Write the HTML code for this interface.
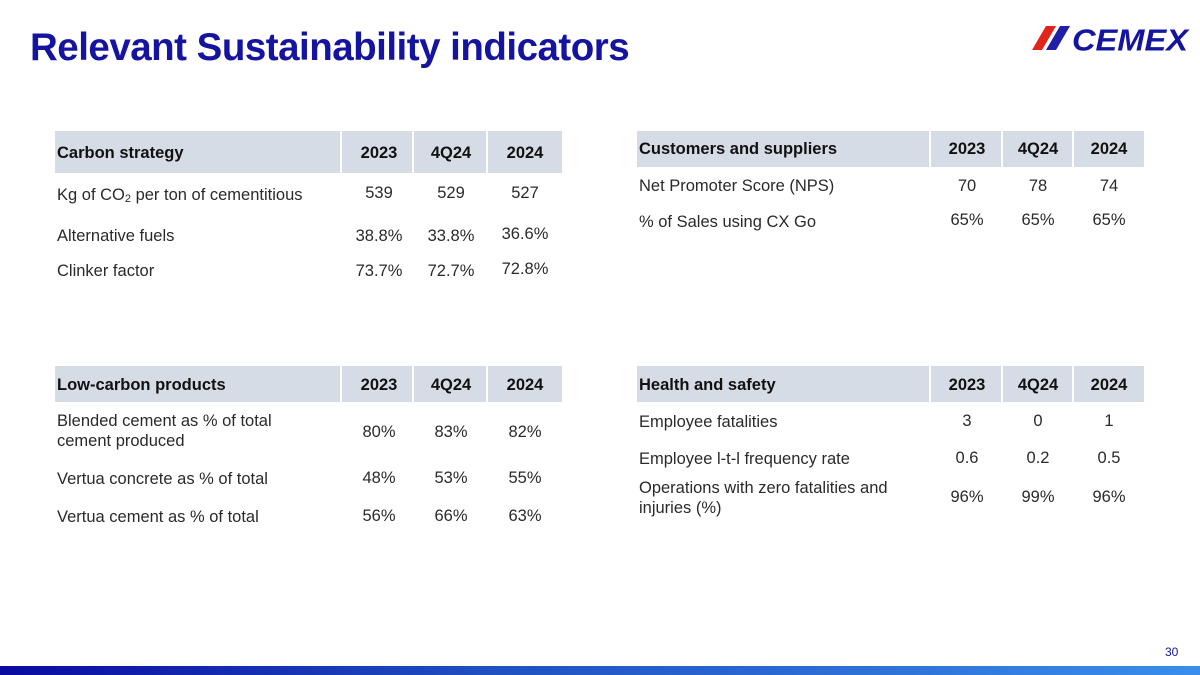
<!DOCTYPE html>
<html><head><meta charset="utf-8"><style>
body{margin:0;width:1200px;height:675px;position:relative;overflow:hidden;background:#fff;font-family:"Liberation Sans",sans-serif;color:#2a2a2a}
.t{position:absolute;font-size:16.5px;line-height:20px;white-space:nowrap}
.c{transform:translateX(-50%)}
.b{font-weight:bold;color:#111}
.hdr{position:absolute;background:#d6dce5}
.sep{position:absolute;width:2px;background:#fff}
</style></head><body>
<div style="position:absolute;left:30px;top:26px;font-size:38.5px;font-weight:bold;color:#1414a0;letter-spacing:-0.5px">Relevant Sustainability indicators</div>
<div style="position:absolute;left:1030px;top:22px;width:165px;height:34px">
<svg width="165" height="34" viewBox="0 0 165 34"><polygon points="2,28 12,28 26,4 16,4" fill="#e1251b"/><polygon points="16,28 26,28 40,4 30,4" fill="#1f1fa8"/><text x="42" y="28.5" font-family="Liberation Sans" font-weight="bold" font-style="italic" font-size="31" textLength="116" lengthAdjust="spacingAndGlyphs" fill="#1414a0">CEMEX</text></svg></div>

<!-- Carbon strategy -->
<div class="hdr" style="left:55px;top:131px;width:507px;height:42px"></div>
<div class="sep" style="left:340px;top:131px;height:42px"></div><div class="sep" style="left:412px;top:131px;height:42px"></div><div class="sep" style="left:486px;top:131px;height:42px"></div>
<div class="t b" style="left:57px;top:143px">Carbon strategy</div>
<div class="t b c" style="left:379px;top:143px">2023</div><div class="t b c" style="left:451px;top:143px">4Q24</div><div class="t b c" style="left:525px;top:143px">2024</div>
<div class="t" style="left:57px;top:185px">Kg of CO<sub style="font-size:11px;vertical-align:-2px">2</sub> per ton of cementitious</div>
<div class="t c" style="left:379px;top:183px">539</div><div class="t c" style="left:451px;top:183px">529</div><div class="t c" style="left:525px;top:183px">527</div>
<div class="t" style="left:57px;top:226px">Alternative fuels</div>
<div class="t c" style="left:379px;top:226px">38.8%</div><div class="t c" style="left:451px;top:226px">33.8%</div><div class="t c" style="left:525px;top:224px">36.6%</div>
<div class="t" style="left:57px;top:261px">Clinker factor</div>
<div class="t c" style="left:379px;top:261px">73.7%</div><div class="t c" style="left:451px;top:261px">72.7%</div><div class="t c" style="left:525px;top:259px">72.8%</div>

<!-- Customers -->
<div class="hdr" style="left:637px;top:131px;width:507px;height:36px"></div>
<div class="sep" style="left:929px;top:131px;height:36px"></div><div class="sep" style="left:1001px;top:131px;height:36px"></div><div class="sep" style="left:1072px;top:131px;height:36px"></div>
<div class="t b" style="left:639px;top:139px">Customers and suppliers</div>
<div class="t b c" style="left:967px;top:139px">2023</div><div class="t b c" style="left:1038px;top:139px">4Q24</div><div class="t b c" style="left:1109px;top:139px">2024</div>
<div class="t" style="left:639px;top:176px">Net Promoter Score (NPS)</div>
<div class="t c" style="left:967px;top:176px">70</div><div class="t c" style="left:1038px;top:176px">78</div><div class="t c" style="left:1109px;top:176px">74</div>
<div class="t" style="left:639px;top:212px">% of Sales using CX Go</div>
<div class="t c" style="left:967px;top:210px">65%</div><div class="t c" style="left:1038px;top:210px">65%</div><div class="t c" style="left:1109px;top:210px">65%</div>

<!-- Low-carbon -->
<div class="hdr" style="left:55px;top:366px;width:507px;height:36px"></div>
<div class="sep" style="left:340px;top:366px;height:36px"></div><div class="sep" style="left:412px;top:366px;height:36px"></div><div class="sep" style="left:486px;top:366px;height:36px"></div>
<div class="t b" style="left:57px;top:375px">Low-carbon products</div>
<div class="t b c" style="left:379px;top:375px">2023</div><div class="t b c" style="left:451px;top:375px">4Q24</div><div class="t b c" style="left:525px;top:375px">2024</div>
<div class="t" style="left:57px;top:411px">Blended cement as % of total<br>cement produced</div>
<div class="t c" style="left:379px;top:422px">80%</div><div class="t c" style="left:451px;top:422px">83%</div><div class="t c" style="left:525px;top:422px">82%</div>
<div class="t" style="left:57px;top:469px">Vertua concrete as % of total</div>
<div class="t c" style="left:379px;top:468px">48%</div><div class="t c" style="left:451px;top:468px">53%</div><div class="t c" style="left:525px;top:468px">55%</div>
<div class="t" style="left:57px;top:507px">Vertua cement as % of total</div>
<div class="t c" style="left:379px;top:506px">56%</div><div class="t c" style="left:451px;top:506px">66%</div><div class="t c" style="left:525px;top:506px">63%</div>

<!-- Health -->
<div class="hdr" style="left:637px;top:366px;width:507px;height:36px"></div>
<div class="sep" style="left:929px;top:366px;height:36px"></div><div class="sep" style="left:1001px;top:366px;height:36px"></div><div class="sep" style="left:1072px;top:366px;height:36px"></div>
<div class="t b" style="left:639px;top:375px">Health and safety</div>
<div class="t b c" style="left:967px;top:375px">2023</div><div class="t b c" style="left:1038px;top:375px">4Q24</div><div class="t b c" style="left:1109px;top:375px">2024</div>
<div class="t" style="left:639px;top:412px">Employee fatalities</div>
<div class="t c" style="left:967px;top:411px">3</div><div class="t c" style="left:1038px;top:411px">0</div><div class="t c" style="left:1109px;top:411px">1</div>
<div class="t" style="left:639px;top:449px">Employee l-t-l frequency rate</div>
<div class="t c" style="left:967px;top:448px">0.6</div><div class="t c" style="left:1038px;top:448px">0.2</div><div class="t c" style="left:1109px;top:448px">0.5</div>
<div class="t" style="left:639px;top:478px">Operations with zero fatalities and<br>injuries (%)</div>
<div class="t c" style="left:967px;top:487px">96%</div><div class="t c" style="left:1038px;top:487px">99%</div><div class="t c" style="left:1109px;top:487px">96%</div>

<div style="position:absolute;left:1165px;top:645px;font-size:12px;color:#1414a0">30</div>
<div style="position:absolute;left:0;top:666px;width:1200px;height:9px;background:linear-gradient(90deg,#0a0aa0,#1f4fc0 40%,#3a8eea)"></div>
</body></html>
